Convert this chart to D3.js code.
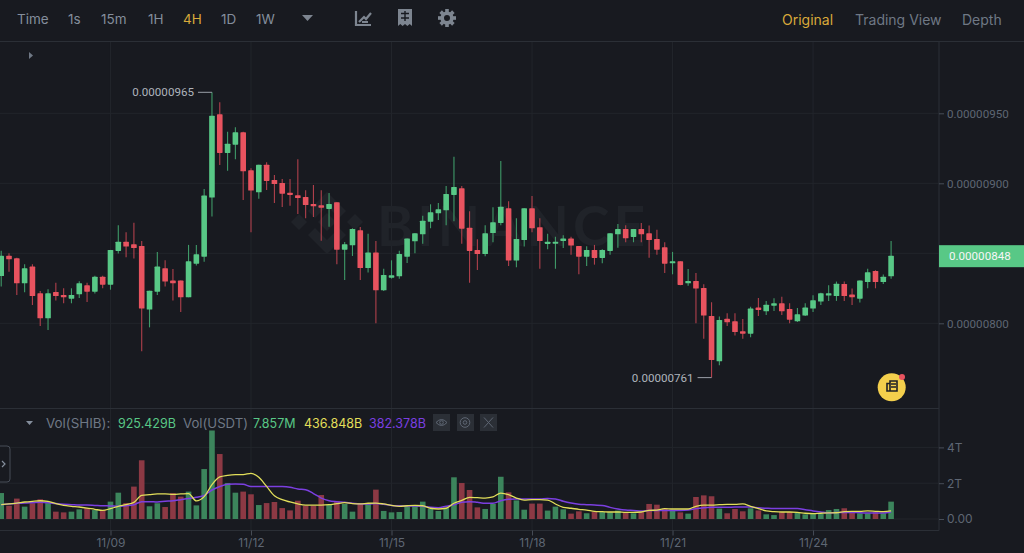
<!DOCTYPE html>
<html lang="en">
<head>
<meta charset="utf-8">
<title>SHIB/USDT 4H</title>
<script src="https://d3js.org/d3.v7.min.js"></script>
<style>
  html, body { margin: 0; background: #181a20; overflow: hidden; }
  svg { display: block; font-family: Inter, "Noto Sans", sans-serif; }
  .axis path { display: none; }
  .axis line { stroke: #474d57; }
  .axis text { fill: #5e6673; font-size: 12px; font-family: Inter, sans-serif; }
  .axis.price text { font-family: Roboto, sans-serif; font-size: 11.6px; }
  .grid line { stroke: #22252b; }
</style>
</head>
<body>
<div id="chart"></div>
<script>
// prices are in units of 0.00000001
var opens = [833.8,848.3,846.4,828.6,840.5,821.4,803.6,822.4,820.2,817.6,
  820.7,827.1,822.6,833.3,827.6,851.7,858.3,856.4,855.2,809.8,
  822.6,839.3,830.5,830.5,818.6,842.6,847.6,889.8,949.3,921.7,
  927.6,936.4,909.3,893.6,913.3,902.4,900.2,893.3,891.4,890.2,
  885.2,884.3,881.7,886.4,852.6,855.7,866.4,839.5,850.5,823.6,
  832.6,833.6,847.6,858.6,863.6,872.6,878.6,880.7,891.7,896.4,
  868.3,852.4,849.5,864.5,871.7,882.1,844.8,859.5,882.1,868.6,
  856.7,856.9,858.8,860.5,855.2,847.6,852.4,846.7,851.7,863.6,
  867.4,861.7,867.4,864.3,860.2,854.3,842.9,844.3,828.6,830.2,
  825.2,805.2,772.9,803.3,801.4,794.3,792.6,811.2,808.6,812.6,
  814.3,810.2,801.4,805.5,810.5,815.5,819.8,819.5,828.1,820.5,
  817.6,829.5,837.4,829.5,833.6];
var closes = [848.3,845.7,828.6,839.3,819.5,803.6,821.4,819.5,818.6,820.2,
  828.6,822.6,833.3,827.6,852.4,858.3,854.8,853.8,810.5,823.3,
  840.5,829.8,828.6,818.6,844.3,849.3,891.2,948.3,921.7,928.3,
  936.4,908.6,894.8,913.3,901.7,899.5,892.6,891.7,889.5,884.5,
  883.6,882.6,885.2,852.6,856.4,867.4,839.5,850.5,823.6,834.5,
  834.3,849.5,860.5,864.3,873.3,879.3,881.4,892.4,897.4,867.6,
  851.7,849.5,864.3,872.1,883.3,844.8,860.2,882.1,867.9,858.8,
  858.3,858.3,860.5,855.5,847.6,852.4,846.7,852.4,864.3,867.4,
  860.7,867.4,863.6,859.5,852.6,842.6,844.3,827.4,830.2,824.8,
  805.5,773.8,802.4,800.7,793.8,792.6,810.5,809.5,813.3,814.3,
  808.6,802.6,806.4,811.2,816.4,821.4,821.4,828.3,819.5,818.6,
  830.5,836.4,829.5,833.3,848.3];
var highs = [851.9,850,846.9,842.1,842.1,823.1,824.3,829,825,825,
  830,829,834,834,852.4,870,865,871.9,858.8,823.3,
  851,845,838.8,830.5,856,856,896,965,957.9,936.9,
  940,936.9,910.7,913.3,915,906,903.1,903.1,917.1,895,
  898.8,895,893.1,886.4,858.1,867.9,868.8,864,858.8,839,
  845,851.9,860.5,864.3,876.9,885,886,898.1,919,898.1,
  880,860,870,882.9,916,887.1,875,882.1,891,875,
  864,861.9,862.9,861.9,855.2,855,856,852.9,864.3,871,
  870,867.4,871.7,869.8,866.9,857.9,851,844.3,838.8,836,
  827.9,815,804.8,807.1,807.1,803.1,811.9,818.1,816,817.9,
  819,814.3,811,814.3,820,821.9,827.1,829.8,829.8,824.8,
  830.5,839,837.9,834.8,858.8];
var lows = [826.2,836.9,820.2,822.1,813.1,798.1,795.2,816.2,814.3,814.3,
  818.1,815.2,821.2,825,824,849.8,847.1,846.2,780,797.1,
  820.2,826.2,816.2,808.1,818.6,841.2,844,876.2,913.1,909,
  917.1,888.1,865,889,895.2,886,883.1,884,878.1,875,
  876,859,869,842.1,831,848.1,831,836.2,800,823.1,
  831.9,831.9,843.1,850,856.9,867.9,873.8,870,872.9,856.9,
  829,838.1,847.9,857.9,870,841,840,854.8,865,839,
  852.9,839,853.8,849,835,841,841.9,842.9,849,854,
  857.9,857.9,857.9,846.9,849,836,835,827.1,826.9,800,
  789,761.2,770,798.1,791.2,789,790,805.2,806,808.8,
  806,800,801,805.2,808.1,813.1,816,816,816,813.1,
  814.8,825,825,828.1,831.9];
// volume in trillions
var volumes = [1.45,.74,1.14,.69,.88,1.10,.89,.41,.37,.41,.54,.61,.50,.50,.97,1.47,.89,1.81,3.28,.71,
  .88,.67,1.45,1.25,1.53,.76,2.79,4.99,3.63,2.01,1.47,1.53,1.38,.78,.89,.95,.61,.48,1.02,
  .74,.74,1.34,.80,1.01,.84,.41,.84,.86,1.64,.45,.37,.39,.71,.74,.97,.58,.45,.63,2.33,2.01,
  1.62,.65,.56,.84,2.36,1.49,1.04,.52,.86,.86,.47,.69,.54,.30,.43,.32,.39,
  .39,.37,.47,.35,.32,.39,.84,.80,.58,.47,.37,.30,1.23,1.32,1.27,.58,.32,.56,.43,.60,.48,.26,.22,
  .39,.39,.34,.26,.30,.28,.50,.56,.60,.41,.32,.32,.39,.32,.97];
var maYellow = [.80,.84,.89,.95,.99,1.02,.99,.86,.76,.71,.67,.61,.54,.48,.58,.71,.80,.93,1.32,1.36,
  1.40,1.40,1.38,1.40,1.42,1.01,1.25,1.92,2.35,2.44,2.48,2.48,2.55,2.33,1.82,1.30,1.08,.95,.84,
  .78,.78,.78,.80,.86,.91,.86,.84,.88,.89,.84,.76,.71,.74,.76,.74,.60,.56,.60,.88,1.04,
  1.21,1.19,1.17,1.23,1.45,1.36,1.17,1.06,1.08,1.08,1.06,.84,.65,.60,.54,.50,.43,
  .41,.39,.39,.37,.37,.39,.48,.50,.58,.56,.56,.56,.71,.78,.78,.80,.82,.82,.84,.71,.58,.45,.41,
  .39,.39,.37,.32,.30,.32,.34,.35,.41,.43,.43,.45,.43,.41,.45];
var maPurple = [.80,.84,.88,.89,.91,.93,.91,.86,.82,.80,.78,.78,.76,.74,.73,.71,.74,.80,.97,.97,
  .95,.99,1.02,1.08,1.14,1.21,1.32,1.62,1.82,1.94,1.96,1.94,1.81,1.81,1.81,1.82,1.81,1.77,1.68,
  1.64,1.42,1.17,1.02,.97,.93,.88,.84,.84,.86,.82,.76,.74,.73,.73,.71,.65,.63,.71,.80,.93,
  .97,.93,.88,.88,1.02,1.10,1.12,1.12,1.12,1.12,1.14,1.12,.99,.89,.82,.80,.78,
  .76,.65,.56,.50,.48,.45,.47,.48,.48,.48,.48,.50,.58,.63,.65,.65,.65,.67,.67,.67,.63,.60,.58,
  .58,.58,.58,.52,.45,.39,.34,.37,.37,.37,.35,.34,.34,.34,.39];

var dateTicks = [14, 32, 50, 68, 86, 104];
var dateLabels = ["11/09", "11/12", "11/15", "11/18", "11/21", "11/24"];
var priceGrid = [800, 850, 900, 950];
var priceTicks = [800, 900, 950];   // 850 sits under the last price tag
var volTicks = [0, 2, 4];
var intervals = ["Time", "1s", "15m", "1H", "4H", "1D", "1W"];
var intervalX = [17, 68, 101, 148, 183, 221, 256];
var views = ["Original", "Trading View", "Depth"];
var viewX = [782, 855, 962];

var width = 1024, height = 553;
var axisX = 939, paneTop = 42, paneSplit = 408.5, axisY = 530.5;
var green = "#58c886", red = "#e8535f", greenVol = "#3c855c", redVol = "#8c3944";
var yellowLine = "#e2df5a", purpleLine = "#7b3fe0";

var svg = d3.select("#chart").append("svg")
  .attr("width", width)
  .attr("height", height);

var indexes = d3.range(opens.length);

// candle index -> pixel
var x = d3.scaleLinear().domain([0, 114]).range([1.2, 891.1]);
var y = d3.scaleLinear().domain([800, 950]).range([323.3, 113.3]);
var yVol = d3.scaleLinear().domain([0, 4]).range([519, 447.4]);

var bodyW = 5.6;
var priceLabel = d => (d * 1e-8).toFixed(8);

// grid
var grid = svg.append("g").attr("class", "grid");
grid.selectAll(".gx").data(dateTicks).join("line")
  .attr("class", "gx")
  .attr("x1", d => x(d)).attr("x2", d => x(d))
  .attr("y1", paneTop).attr("y2", axisY);
grid.selectAll(".gy").data(priceGrid).join("line")
  .attr("class", "gy")
  .attr("x1", 0).attr("x2", axisX)
  .attr("y1", d => y(d)).attr("y2", d => y(d));
grid.selectAll(".gv").data(volTicks).join("line")
  .attr("class", "gv")
  .attr("x1", 0).attr("x2", axisX)
  .attr("y1", d => yVol(d)).attr("y2", d => yVol(d));

// watermark
var mark = svg.append("g").attr("fill", "#202329");
mark.append("text")
  .attr("x", 377).attr("y", 246)
  .attr("font-family", "Lato, sans-serif")
  .attr("font-weight", 700)
  .attr("font-size", 55)
  .attr("textLength", 268)
  .text("BINANCE");
mark.selectAll("path")
  .data([
    "M299 214l8 8l-8 8l-8-8z",
    "M355 214l8 8l-8 8l-8-8z",
    "M327 213l9 9l-9 9l-9-9z",
    "M327 192l19 19l-7 7l-12-12l-12 12l-7-7z",
    "M308 235l7-7l12 12l12-12l7 7l-19 19z"
  ])
  .join("path")
  .attr("d", d => d);

// frame lines
var frame = svg.append("g").attr("stroke", "#2b2f36");
frame.append("line").attr("x1", 0).attr("x2", width).attr("y1", 41.5).attr("y2", 41.5);
frame.append("line").attr("x1", 0).attr("x2", axisX).attr("y1", paneSplit).attr("y2", paneSplit);
frame.append("line").attr("x1", 0).attr("x2", axisX).attr("y1", axisY).attr("y2", axisY);
frame.append("line").attr("x1", axisX).attr("x2", axisX).attr("y1", 41.5).attr("y2", axisY);

// candles
var candles = svg.append("g");
candles.selectAll("line").data(indexes).join("line")
  .attr("x1", i => x(i)).attr("x2", i => x(i))
  .attr("y1", i => y(highs[i])).attr("y2", i => y(lows[i]))
  .attr("stroke", i => closes[i] >= opens[i] ? "#3f9a68" : "#b0404c")
  .attr("stroke-width", 1.1);
candles.selectAll("rect").data(indexes).join("rect")
  .attr("x", i => x(i) - bodyW / 2)
  .attr("width", bodyW)
  .attr("y", i => y(Math.max(opens[i], closes[i])))
  .attr("height", i => Math.max(1.5, Math.abs(y(opens[i]) - y(closes[i]))))
  .attr("rx", 0.6)
  .attr("fill", i => closes[i] >= opens[i] ? green : red);

// high / low labels
function annotate(i, ly, text) {
  var g = svg.append("g");
  g.append("line")
    .attr("x1", x(i) - 14).attr("x2", x(i))
    .attr("y1", ly).attr("y2", ly)
    .attr("stroke", "#9a9fa8").attr("stroke-width", 1);
  g.append("text")
    .attr("x", x(i) - 18).attr("y", ly + 4)
    .attr("text-anchor", "end")
    .attr("font-family", "Roboto, sans-serif")
    .attr("font-size", 11.6)
    .attr("fill", "#aeb4bc")
    .text(text);
}
var hiIdx = d3.maxIndex(highs), loIdx = d3.minIndex(lows);
annotate(hiIdx, y(highs[hiIdx]), priceLabel(highs[hiIdx]));
annotate(loIdx, y(lows[loIdx]), priceLabel(lows[loIdx]));

// volume bars
svg.append("g").selectAll("rect").data(indexes).join("rect")
  .attr("x", i => x(i) - bodyW / 2)
  .attr("width", bodyW)
  .attr("y", i => Math.max(yVol(volumes[i]), paneSplit + 22))
  .attr("height", i => yVol(0) - Math.max(yVol(volumes[i]), paneSplit + 22))
  .attr("fill", i => closes[i] >= opens[i] ? greenVol : redVol);

// volume averages
var maLine = d3.line().x((d, i) => x(i)).y(d => yVol(d)).curve(d3.curveMonotoneX);
svg.append("path").datum(maPurple)
  .attr("d", maLine).attr("fill", "none")
  .attr("stroke", purpleLine).attr("stroke-width", 1.5);
svg.append("path").datum(maYellow)
  .attr("d", maLine).attr("fill", "none")
  .attr("stroke", yellowLine).attr("stroke-width", 1.3);

// axes
svg.append("g").attr("class", "axis")
  .attr("transform", "translate(0," + axisY + ")")
  .call(d3.axisBottom(x).tickValues(dateTicks).tickSize(5).tickPadding(3)
    .tickFormat((d, i) => dateLabels[i]));

svg.append("g").attr("class", "axis price")
  .attr("transform", "translate(" + axisX + ",0)")
  .call(d3.axisRight(y).tickValues(priceTicks).tickSize(5).tickPadding(3)
    .tickFormat(priceLabel));

svg.append("g").attr("class", "axis")
  .attr("transform", "translate(" + axisX + ",0)")
  .call(d3.axisRight(yVol).tickValues(volTicks).tickSize(5).tickPadding(3)
    .tickFormat(d => d === 0 ? "0.00" : d + "T"));

// last price tag
var last = closes[closes.length - 1];
svg.append("rect")
  .attr("x", axisX).attr("y", y(last) - 10.5)
  .attr("width", width - axisX).attr("height", 22)
  .attr("fill", green);
svg.append("text")
  .attr("x", 949).attr("y", y(last) + 4.6)
  .attr("font-family", "Roboto, sans-serif")
  .attr("font-size", 11.6)
  .attr("fill", "#f5f6f7")
  .text(priceLabel(last));

// top toolbar
var toolbar = svg.append("g").attr("font-size", 13.5);
toolbar.selectAll(".iv").data(intervals).join("text")
  .attr("class", "iv")
  .attr("x", (d, i) => intervalX[i]).attr("y", 24)
  .attr("fill", d => d === "4H" ? "#d9a93a" : "#848e9c")
  .text(d => d);
toolbar.selectAll(".vw").data(views).join("text")
  .attr("class", "vw")
  .attr("x", (d, i) => viewX[i]).attr("y", 25)
  .attr("font-size", 14)
  .attr("fill", d => d === "Original" ? "#d9a93a" : "#6f7885")
  .text(d => d);

var iconFill = "#7d8590";
svg.append("path").attr("d", "M302 15h11l-5.5 6z").attr("fill", iconFill);
svg.append("path").attr("d", "M29 52l0 7l4-3.5z").attr("fill", "#6f7885");
// chart icon
svg.append("path")
  .attr("d", "M356 11v14h15M359 22l5-5l2 2l5-6M362 22h6")
  .attr("fill", "none").attr("stroke", iconFill).attr("stroke-width", 2.2);
// receipt icon
svg.append("path")
  .attr("d", "M398 9h14v17l-2.3-2l-2.3 2l-2.4-2l-2.4 2l-2.3-2l-2.3 2z")
  .attr("fill", iconFill);
svg.append("path")
  .attr("d", "M401 13.5h8M401 18h8M405 11v10")
  .attr("stroke", "#181a20").attr("stroke-width", 1.4);
// gear icon
var gear = svg.append("g").attr("transform", "translate(447,18)");
gear.selectAll("rect").data(d3.range(0, 360, 45)).join("rect")
  .attr("x", -1.8).attr("y", -9).attr("width", 3.6).attr("height", 4)
  .attr("transform", d => "rotate(" + d + ")")
  .attr("fill", iconFill);
gear.append("circle").attr("r", 4.8)
  .attr("fill", "none").attr("stroke", iconFill).attr("stroke-width", 3.6);

// volume legend
svg.append("path").attr("d", "M26 421h7l-3.5 4z").attr("fill", "#848e9c");
var legendItems = [
  ["Vol(SHIB):", 46, "#6f7885", 13.4], ["925.429B", 118, "#58c886", 12.5],
  ["Vol(USDT)", 183, "#6f7885", 13.2], ["7.857M", 253, "#58c886", 12.5],
  ["436.848B", 304, yellowLine, 12.5], ["382.378B", 369, purpleLine, 12.5]
];
svg.append("g").selectAll("text").data(legendItems).join("text")
  .attr("x", d => d[1]).attr("y", 428)
  .attr("font-size", d => d[3])
  .attr("fill", d => d[2])
  .text(d => d[0]);
svg.append("g").selectAll("rect").data([433, 457, 480]).join("rect")
  .attr("x", d => d).attr("y", 414).attr("width", 17).attr("height", 17)
  .attr("fill", "#2b2f36");
var legendIcon = svg.append("g").attr("fill", "none").attr("stroke", "#5e6673").attr("stroke-width", 1);
legendIcon.append("path").attr("d", "M436 422.5q5.5-6 11 0q-5.5 6-11 0z");
legendIcon.append("circle").attr("cx", 441.5).attr("cy", 422.5).attr("r", 1.8);
legendIcon.append("circle").attr("cx", 465).attr("cy", 422.5).attr("r", 4.8);
legendIcon.append("circle").attr("cx", 465).attr("cy", 422.5).attr("r", 1.8);
legendIcon.append("path").attr("d", "M484 417.5l9 10M493 417.5l-9 10");

// collapse handle
svg.append("rect")
  .attr("x", -4).attr("y", 446).attr("width", 14).attr("height", 36).attr("rx", 3)
  .attr("fill", "#181a20").attr("stroke", "#474d57");
svg.append("path").attr("d", "M2 461l3 3l-3 3")
  .attr("fill", "none").attr("stroke", "#848e9c").attr("stroke-width", 1.2);

// notice button
svg.append("circle").attr("cx", 891.7).attr("cy", 387.3).attr("r", 14).attr("fill", "#f3cf4c");
svg.append("path")
  .attr("d", "M887 383.5h3v-2.5h7v10h-10zM890 383.5v7.5M891 384h5M891 387h5")
  .attr("fill", "none").attr("stroke", "#1e2026").attr("stroke-width", 1.6);
svg.append("circle").attr("cx", 902).attr("cy", 377).attr("r", 3).attr("fill", "#e8535f");
</script>
</body>
</html>
